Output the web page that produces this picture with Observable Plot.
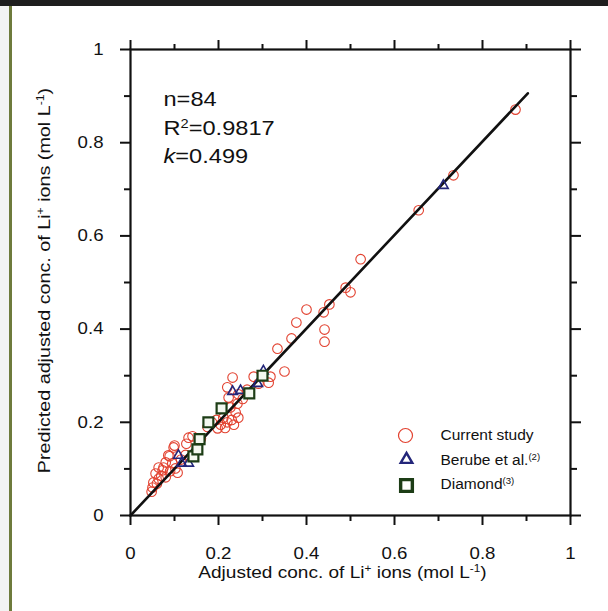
<!DOCTYPE html>
<html>
<head>
<meta charset="utf-8">
<script src="https://cdn.jsdelivr.net/npm/d3@7"></script>
<script src="https://cdn.jsdelivr.net/npm/@observablehq/plot@0.6"></script>
<style>
  html, body { margin: 0; padding: 0; background: #ffffff; }
  #wrap { position: relative; width: 608px; height: 611px; overflow: hidden; }
  #topband { position: absolute; left: 0; top: 0; width: 608px; height: 6px; background: #1e1e1e; z-index: 2; }
  #leftpad { position: absolute; left: 0; top: 6px; width: 9px; height: 605px; background: #f3f3f3; z-index: 2; }
  #leftline { position: absolute; left: 9px; top: 6px; width: 3px; height: 605px; background: #6e7b3c; z-index: 2; }
</style>
</head>
<body>
<div id="wrap">
  <div id="topband"></div>
  <div id="leftpad"></div>
  <div id="leftline"></div>
  <div id="chart"></div>
</div>
<script>
// ---- data ----
const circleX = [0.875,0.734,0.655,0.523,0.489,0.500,0.452,0.439,0.400,0.377,0.441,0.441,0.366,0.334,0.350,0.318,0.280,0.232,0.314,0.291,0.220,0.223,0.227,0.243,0.239,0.245,0.230,0.220,0.211,0.235,0.205,0.198,0.215,0.141,0.132,0.127,0.100,0.098,0.089,0.086,0.080,0.064,0.095,0.102,0.107,0.057,0.064,0.052,0.050,0.048,0.073,0.080,0.075,0.060,0.070,0.090,0.115,0.125,0.160,0.175,0.185,0.195,0.255,0.265,0.245];
const circleY = [0.871,0.730,0.655,0.550,0.489,0.479,0.453,0.436,0.442,0.414,0.399,0.373,0.380,0.358,0.309,0.298,0.298,0.296,0.285,0.283,0.275,0.253,0.232,0.240,0.221,0.210,0.205,0.200,0.210,0.195,0.195,0.187,0.188,0.170,0.167,0.154,0.150,0.146,0.127,0.129,0.114,0.103,0.112,0.101,0.092,0.090,0.079,0.071,0.060,0.051,0.097,0.082,0.103,0.068,0.085,0.095,0.120,0.130,0.165,0.190,0.200,0.205,0.250,0.270,0.260];
const berubeX = [0.109,0.116,0.132,0.232,0.250,0.289,0.302,0.711];
const berubeY = [0.129,0.112,0.112,0.266,0.268,0.283,0.310,0.708];
const diamondX = [0.143,0.152,0.157,0.177,0.207,0.270,0.300];
const diamondY = [0.127,0.142,0.164,0.200,0.230,0.262,0.300];
const fitX = [0, 0.903];
const fitY = [0, 0.906];
const majorTicks = [0, 0.2, 0.4, 0.6, 0.8, 1];
const majorLabels = ["0", "0.2", "0.4", "0.6", "0.8", "1"];
const minorTicks = [0.1, 0.3, 0.5, 0.7, 0.9];
const statsLines = ["n=84", "R2=0.9817", "k=0.499"];
const seriesNames = ["Current study", "Berube et al.(2)", "Diamond(3)"];
const xTitle = "Adjusted conc. of Li+ ions (mol L-1)";
const yTitle = "Predicted adjusted conc. of Li+ ions (mol L-1)";

// ---- colours ----
const RED = "#e2412f", NAVY = "#23267a", GREEN = "#1d3d16";

const circles = circleX.map((x, i) => ({x, y: circleY[i]}));
const berube = berubeX.map((x, i) => ({x, y: berubeY[i]}));
const diamond = diamondX.map((x, i) => ({x, y: diamondY[i]}));
const fit = fitX.map((x, i) => ({x, y: fitY[i]}));
const lbl = d => majorLabels[majorTicks.indexOf(d)];
const legendRows = seriesNames.map((name, i) => ({name, i}));

const plot = Plot.plot({
  width: 608,
  height: 611,
  marginLeft: 130,
  marginRight: 38,
  marginTop: 49,
  marginBottom: 96,
  x: {domain: [0, 1]},
  y: {domain: [0, 1]},
  style: {fontFamily: "'Liberation Sans', Arial, sans-serif", fontSize: "16px", color: "#111", background: "transparent"},
  marks: [
    Plot.axisX(majorTicks, {anchor: "bottom", tickSize: 10, tickPadding: 22, tickFormat: lbl, label: null, strokeWidth: 2, fontSize: 16.5, className: "ticklab"}),
    Plot.axisX(minorTicks, {anchor: "bottom", tickSize: 6, tickFormat: () => "", label: null, strokeWidth: 2}),
    Plot.axisX(majorTicks, {anchor: "top", tickSize: 10, tickFormat: () => "", label: null, strokeWidth: 2}),
    Plot.axisX(minorTicks, {anchor: "top", tickSize: 6, tickFormat: () => "", label: null, strokeWidth: 2}),
    Plot.axisY(majorTicks, {anchor: "left", tickSize: 10, tickPadding: 17, tickFormat: lbl, label: null, strokeWidth: 2, fontSize: 16.5, className: "ticklab"}),
    Plot.axisY(minorTicks, {anchor: "left", tickSize: 6, tickFormat: () => "", label: null, strokeWidth: 2}),
    Plot.axisY(majorTicks, {anchor: "right", tickSize: 10, tickFormat: () => "", label: null, strokeWidth: 2}),
    Plot.axisY(minorTicks, {anchor: "right", tickSize: 6, tickFormat: () => "", label: null, strokeWidth: 2}),
    Plot.frame({stroke: "#111", strokeWidth: 2.2}),
    // data
    Plot.dot(circles, {x: "x", y: "y", r: 4.8, stroke: RED, strokeWidth: 1.1, fill: "none"}),
    Plot.line(fit, {x: "x", y: "y", stroke: "#111", strokeWidth: 2.6}),
    Plot.dot(berube, {x: "x", y: "y", symbol: "triangle", r: 3.6, stroke: NAVY, strokeWidth: 1.6, fill: "none"}),
    Plot.dot(diamond, {x: "x", y: "y", symbol: "square", r: 5.6, stroke: GREEN, strokeWidth: 2.2, fill: "#f4f8f0"}),
    // stats annotation
    ...statsLines.map((s, i) => Plot.text([s], {frameAnchor: "top-left", dx: 33, dy: 50 + i * 28.7, textAnchor: "start", lineAnchor: "middle", fontSize: 20, fill: "#111", className: "stat" + i})),
    // legend
    Plot.dot([0], {frameAnchor: "top-left", dx: 275, dy: 386, r: 7, stroke: RED, strokeWidth: 1.2, fill: "none"}),
    Plot.dot([0], {frameAnchor: "top-left", dx: 276, dy: 410, symbol: "triangle", r: 4.3, stroke: NAVY, strokeWidth: 2.4, fill: "none"}),
    Plot.dot([0], {frameAnchor: "top-left", dx: 276, dy: 436, symbol: "square", r: 6.6, stroke: GREEN, strokeWidth: 3.4, fill: "#ffffff"}),
    ...legendRows.map(r => Plot.text([r.name], {frameAnchor: "top-left", dx: 310, dy: 386 + r.i * 24.5, textAnchor: "start", lineAnchor: "middle", fontSize: 15.5, fill: "#111", className: "leg" + r.i})),
    // axis titles
    Plot.text([xTitle], {frameAnchor: "bottom", dx: -8, dy: 57, textAnchor: "middle", lineAnchor: "middle", fontSize: 17, fill: "#111", className: "xtitle"}),
    Plot.text([yTitle], {frameAnchor: "left", dx: -86, dy: -2, rotate: -90, textAnchor: "middle", lineAnchor: "middle", fontSize: 17, fill: "#111", className: "ytitle"})
  ]
});
document.getElementById("chart").appendChild(plot);

// rich text (superscripts / italics) as real SVG text
function rich(cls, parts) {
  const t = plot.querySelector("." + cls + " text");
  if (!t) return;
  t.textContent = "";
  for (const [s, kind] of parts) {
    const ts = document.createElementNS("http://www.w3.org/2000/svg", "tspan");
    ts.textContent = s;
    if (kind === "sup") { ts.setAttribute("baseline-shift", "super"); ts.setAttribute("font-size", "62%"); }
    if (kind === "it") ts.setAttribute("font-style", "italic");
    t.appendChild(ts);
  }
}
rich("stat1", [["R", ""], ["2", "sup"], ["=0.9817", ""]]);
rich("stat2", [["k", "it"], ["=0.499", ""]]);
rich("leg1", [["Berube et al.", ""], ["(2)", "sup"]]);
rich("leg2", [["Diamond", ""], ["(3)", "sup"]]);
rich("xtitle", [["Adjusted conc. of Li", ""], ["+", "sup"], [" ions (mol L", ""], ["-1", "sup"], [")", ""]]);
rich("ytitle", [["Predicted adjusted conc. of Li", ""], ["+", "sup"], [" ions (mol L", ""], ["-1", "sup"], [")", ""]]);

// the reference's lettering is a little wider than Liberation Sans: widen glyphs
function widen(selector, factor) {
  plot.querySelectorAll(selector).forEach(t => {
    const w = t.getComputedTextLength();
    if (w > 0) {
      t.setAttribute("textLength", (w * factor).toFixed(2));
      t.setAttribute("lengthAdjust", "spacingAndGlyphs");
    }
  });
}
widen(".ticklab text", 1.13);
widen(".stat0 text, .stat1 text, .stat2 text", 1.18);
widen(".xtitle text", 1.12);
widen(".ytitle text", 1.16);
</script>
</body>
</html>
